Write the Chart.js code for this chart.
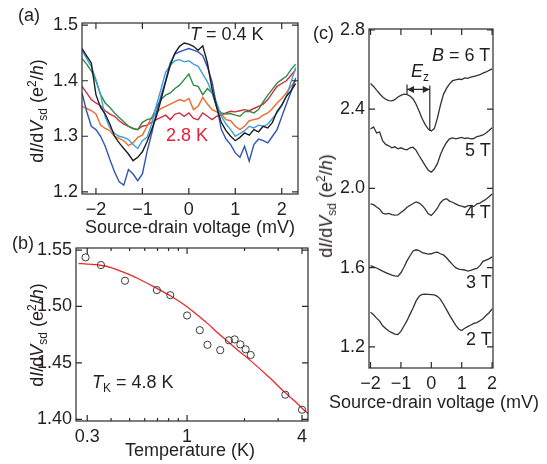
<!DOCTYPE html>
<html>
<head>
<meta charset="utf-8">
<script src="https://cdn.jsdelivr.net/npm/chart.js@4.4.0/dist/chart.umd.min.js"></script>
<style>
  html, body { margin: 0; padding: 0; background: #fff; }
  body { width: 547px; height: 464px; position: relative; overflow: hidden;
         font-family: "Liberation Sans", Arial, sans-serif; color: #231f20; }
  .box { position: absolute; }
  .txt { position: absolute; font-size: 18px; line-height: 18px; white-space: nowrap; }
  .ytitle { position: absolute; font-size: 18px; line-height: 18px; white-space: nowrap;
            transform: translate(-50%, -50%) rotate(-90deg); }
  .xtitle { position: absolute; font-size: 18px; line-height: 18px; white-space: nowrap;
            transform: translateX(-50%); }
  .sub { font-size: 12px; vertical-align: -4px; line-height: 0; }
  .sup { font-size: 12px; vertical-align: 7px; line-height: 0; }
</style>
</head>
<body>

<div class="box" style="left:0;top:0"><canvas id="chartA" width="310" height="240"></canvas></div>
<div class="box" style="left:0;top:230px"><canvas id="chartB" width="320" height="234"></canvas></div>
<div class="box" style="left:300px;top:0"><canvas id="chartC" width="247" height="464"></canvas></div>

<!-- panel (a) text -->
<div class="txt" style="left:18px;top:6px">(a)</div>
<div class="txt" style="left:190px;top:25px"><i>T</i> = 0.4 K</div>
<div class="txt" style="left:166px;top:126px;color:#e8203a">2.8 K</div>
<div class="ytitle" style="left:37px;top:111px">d<i>I</i>/d<i>V</i><span class="sub">sd</span> (e<span class="sup">2</span>/<i>h</i>)</div>
<div class="xtitle" style="left:190px;top:218px">Source-drain voltage (mV)</div>

<!-- panel (b) text -->
<div class="txt" style="left:12px;top:234px">(b)</div>
<div class="ytitle" style="left:37px;top:335px">d<i>I</i>/d<i>V</i><span class="sub">sd</span> (e<span class="sup">2</span>/<i>h</i>)</div>
<div class="txt" style="left:92px;top:373px"><i>T</i><span class="sub">K</span> = 4.8 K</div>
<div class="xtitle" style="left:190px;top:441px">Temperature (K)</div>

<!-- panel (c) text -->
<div class="txt" style="left:313px;top:24px">(c)</div>
<div class="ytitle" style="left:326px;top:206px">d<i>I</i>/d<i>V</i><span class="sub">sd</span> (e<span class="sup">2</span>/<i>h</i>)</div>
<div class="txt" style="left:432px;top:46px"><i>B</i> = 6 T</div>
<div class="txt" style="left:411px;top:62px"><i>E</i><span class="sub">z</span></div>
<div class="txt" style="left:465px;top:141px">5 T</div>
<div class="txt" style="left:465px;top:203px">4 T</div>
<div class="txt" style="left:466px;top:273px">3 T</div>
<div class="txt" style="left:466px;top:330px">2 T</div>
<div class="xtitle" style="left:434px;top:393px">Source-drain voltage (mV)</div>

<script>
// ---- panel (a): dI/dV vs bias at several temperatures ----
const biasA = [-2.3,-2.2,-2.1,-2.0,-1.9,-1.8,-1.7,-1.6,-1.5,-1.4,-1.3,-1.2,-1.1,-1.0,-0.9,-0.8,-0.7,-0.6,-0.5,-0.4,-0.3,-0.2,-0.1,
               0,0.1,0.2,0.3,0.4,0.5,0.6,0.7,0.8,0.9,1.0,1.1,1.2,1.3,1.4,1.5,1.6,1.7,1.8,1.9,2.0,2.1,2.2,2.3];
const blackA = [1.458,1.445,1.432,1.375,1.352,1.340,1.322,1.300,1.288,1.278,1.268,1.256,1.262,1.272,1.290,1.312,1.335,1.365,1.398,1.428,1.450,1.462,1.468,
                1.466,1.462,1.455,1.463,1.432,1.385,1.352,1.325,1.310,1.300,1.292,1.298,1.306,1.302,1.312,1.308,1.318,1.315,1.325,1.345,1.356,1.372,1.382,1.395];
const darkBlueA = [1.378,1.345,1.318,1.312,1.300,1.282,1.258,1.236,1.218,1.212,1.240,1.232,1.220,1.232,1.272,1.305,1.342,1.372,1.400,1.432,1.448,1.452,1.455,
                   1.458,1.455,1.452,1.445,1.425,1.398,1.354,1.312,1.295,1.285,1.270,1.262,1.282,1.255,1.285,1.295,1.292,1.288,1.300,1.312,1.335,1.358,1.380,1.405];
const lightBlueA = [1.455,1.440,1.426,1.402,1.375,1.335,1.315,1.305,1.300,1.298,1.294,1.285,1.278,1.292,1.298,1.322,1.355,1.385,1.415,1.428,1.436,1.438,1.434,
                    1.436,1.430,1.426,1.412,1.398,1.378,1.360,1.336,1.322,1.312,1.300,1.305,1.310,1.318,1.315,1.320,1.318,1.322,1.332,1.342,1.355,1.372,1.398,1.424];
const greenA = [1.440,1.430,1.418,1.400,1.375,1.360,1.352,1.342,1.334,1.326,1.318,1.314,1.312,1.325,1.330,1.332,1.352,1.366,1.374,1.378,1.386,1.392,1.402,
                1.412,1.392,1.390,1.375,1.386,1.378,1.352,1.342,1.340,1.341,1.338,1.336,1.344,1.345,1.342,1.348,1.362,1.374,1.385,1.396,1.402,1.408,1.420,1.430];
const orangeA = [1.354,1.350,1.346,1.340,1.320,1.314,1.310,1.300,1.296,1.292,1.283,1.288,1.298,1.302,1.318,1.334,1.342,1.350,1.354,1.358,1.362,1.366,1.363,
                 1.368,1.348,1.354,1.370,1.358,1.348,1.344,1.340,1.330,1.328,1.318,1.312,1.318,1.328,1.330,1.332,1.338,1.342,1.350,1.360,1.368,1.378,1.390,1.400];
const redA = [1.390,1.378,1.366,1.360,1.355,1.346,1.340,1.336,1.328,1.322,1.318,1.314,1.312,1.318,1.320,1.325,1.330,1.334,1.338,1.330,1.340,1.342,1.336,
              1.342,1.332,1.330,1.342,1.336,1.330,1.336,1.338,1.342,1.345,1.344,1.346,1.348,1.346,1.350,1.354,1.358,1.366,1.378,1.390,1.395,1.400,1.410,1.420];
const xTicksA = [-2, -1, 0, 1, 2];
const yTicksA = [1.2, 1.3, 1.4, 1.5];

// ---- panel (b): zero-bias conductance vs temperature ----
const tempB = [0.294,0.354,0.473,0.695,0.817,1.0,1.166,1.279,1.492,1.657,1.775,1.901,2.027,2.154,3.27,4.0];
const condB = [1.5435,1.5367,1.5228,1.5145,1.5100,1.4920,1.4790,1.4660,1.4613,1.4700,1.4708,1.4664,1.4620,1.4570,1.4218,1.4085];
const fitTempB = [0.27,0.30,0.35,0.40,0.47,0.55,0.695,0.817,1.0,1.15,1.28,1.45,1.66,1.9,2.15,2.7,3.27,3.7,4.08,4.3];
const fitCondB = [1.5380,1.5376,1.5365,1.5345,1.5300,1.5250,1.5160,1.5095,1.4998,1.4915,1.4850,1.4765,1.4680,1.4595,1.4520,1.4370,1.4235,1.4155,1.4085,1.4050];
const xTicksB = [0.3, 0.4, 0.5, 0.6, 0.7, 0.8, 0.9, 1, 2, 3, 4];
const xLabelsB = [0.3, 1, 4];
const yTicksB = [1.40, 1.45, 1.50, 1.55];

// ---- panel (c): dI/dV vs bias in magnetic field (curves offset) ----
const biasC = [-2.0,-1.9,-1.8,-1.7,-1.6,-1.5,-1.4,-1.3,-1.2,-1.1,-1.0,-0.9,-0.8,-0.7,-0.6,-0.5,-0.4,-0.3,-0.2,-0.1,
               0,0.1,0.2,0.3,0.4,0.5,0.6,0.7,0.8,0.9,1.0,1.1,1.2,1.3,1.4,1.5,1.6,1.7,1.8,1.9,2.0];
const field6T = [2.530,2.515,2.496,2.478,2.462,2.450,2.443,2.442,2.448,2.462,2.470,2.476,2.474,2.466,2.452,2.425,2.390,2.352,2.322,2.300,
                 2.290,2.302,2.355,2.420,2.475,2.505,2.528,2.544,2.548,2.552,2.550,2.558,2.556,2.562,2.566,2.570,2.574,2.582,2.588,2.596,2.604];
const field5T = [2.300,2.310,2.280,2.285,2.240,2.222,2.215,2.205,2.210,2.200,2.205,2.198,2.195,2.205,2.208,2.192,2.165,2.140,2.115,2.092,
                 2.082,2.098,2.125,2.170,2.205,2.232,2.250,2.255,2.250,2.254,2.258,2.252,2.255,2.250,2.252,2.262,2.265,2.270,2.280,2.292,2.306];
const field4T = [1.922,1.918,1.906,1.895,1.875,1.870,1.874,1.868,1.865,1.866,1.878,1.890,1.905,1.914,1.924,1.932,1.926,1.914,1.895,1.872,
                 1.864,1.880,1.900,1.928,1.942,1.948,1.936,1.930,1.922,1.914,1.910,1.905,1.912,1.914,1.908,1.922,1.926,1.936,1.945,1.958,1.972];
const field3T = [1.610,1.604,1.598,1.590,1.582,1.575,1.568,1.562,1.558,1.556,1.574,1.602,1.634,1.660,1.684,1.690,1.686,1.676,1.672,1.668,
                 1.670,1.676,1.678,1.670,1.664,1.650,1.632,1.615,1.600,1.592,1.590,1.588,1.582,1.586,1.592,1.596,1.610,1.632,1.638,1.644,1.654];
const field2T = [1.375,1.362,1.345,1.330,1.306,1.292,1.280,1.272,1.264,1.262,1.278,1.305,1.332,1.365,1.396,1.432,1.455,1.465,1.466,1.465,
                 1.464,1.462,1.455,1.440,1.415,1.388,1.360,1.335,1.310,1.290,1.282,1.294,1.302,1.310,1.318,1.322,1.332,1.342,1.358,1.372,1.392];
const xTicksC = [-2, -1, 0, 1, 2];
const yTicksC = [1.2, 1.6, 2.0, 2.4, 2.8];
// Zeeman splitting marker (in data units)
const ezArrowX = [-0.8, -0.05];
const ezArrowY = 2.50;
const ezLineY = [2.29, 2.52];

Chart.defaults.font.family = '"Liberation Sans", Arial, sans-serif';
Chart.defaults.font.size = 18;
Chart.defaults.color = '#231f20';

const INK = '#2a2a2a';

function pts(xs, ys) {
  return xs.map((x, i) => ({ x: x, y: ys[i] }));
}

function minusFmt(v) {
  return v < 0 ? '\u2212' + Math.abs(v) : String(v);
}

// Closed box with inward ticks on all four sides
const frame = {
  id: 'frame',
  afterDatasetsDraw(chart) {
    const { ctx, chartArea: a } = chart;
    const sx = chart.scales.x, sy = chart.scales.y;
    ctx.save();
    ctx.strokeStyle = INK;
    ctx.lineWidth = 1.2;
    ctx.strokeRect(a.left, a.top, a.right - a.left, a.bottom - a.top);
    ctx.beginPath();
    sx.ticks.forEach(t => {
      const p = sx.getPixelForValue(t.value);
      const len = t.minor ? 3 : 6;
      ctx.moveTo(p, a.bottom); ctx.lineTo(p, a.bottom - len);
      ctx.moveTo(p, a.top); ctx.lineTo(p, a.top + len);
    });
    sy.ticks.forEach(t => {
      const p = sy.getPixelForValue(t.value);
      ctx.moveTo(a.left, p); ctx.lineTo(a.left + 6, p);
      ctx.moveTo(a.right, p); ctx.lineTo(a.right - 6, p);
    });
    ctx.stroke();
    ctx.restore();
  }
};

// E_z arrow and vertical marker in panel (c)
const zeeman = {
  id: 'zeeman',
  afterDatasetsDraw(chart) {
    const { ctx } = chart;
    const sx = chart.scales.x, sy = chart.scales.y;
    const xl = sx.getPixelForValue(ezArrowX[0]);
    const xr = sx.getPixelForValue(ezArrowX[1]);
    const ya = sy.getPixelForValue(ezArrowY);
    ctx.save();
    ctx.strokeStyle = INK;
    ctx.fillStyle = INK;
    ctx.lineWidth = 1.2;
    ctx.beginPath();
    ctx.moveTo(xr, sy.getPixelForValue(ezLineY[0]));
    ctx.lineTo(xr, sy.getPixelForValue(ezLineY[1]));
    ctx.moveTo(xl, ya); ctx.lineTo(xr, ya);
    ctx.moveTo(xl, ya - 5); ctx.lineTo(xl, ya + 5);
    ctx.stroke();
    ctx.beginPath();
    ctx.moveTo(xl, ya); ctx.lineTo(xl + 7, ya - 3.5); ctx.lineTo(xl + 7, ya + 3.5); ctx.closePath();
    ctx.moveTo(xr, ya); ctx.lineTo(xr - 7, ya - 3.5); ctx.lineTo(xr - 7, ya + 3.5); ctx.closePath();
    ctx.fill();
    ctx.restore();
  }
};

function setTicks(list, minorTest) {
  return function(scale) {
    scale.ticks = list.map(v => ({ value: v, minor: minorTest ? minorTest(v) : false }));
  };
}

function lineSet(ys, xs, color, width) {
  return {
    data: pts(xs, ys),
    borderColor: color,
    borderWidth: width,
    pointRadius: 0,
    tension: 0,
    fill: false
  };
}

const baseOpts = {
  responsive: false,
  animation: false,
  plugins: { legend: { display: false }, tooltip: { enabled: false } },
  events: []
};

// ---- chart (a) ----
new Chart(document.getElementById('chartA'), {
  type: 'line',
  data: {
    datasets: [
      lineSet(blackA, biasA, '#1e1e1e', 1.4),
      lineSet(darkBlueA, biasA, '#3055b5', 1.4),
      lineSet(lightBlueA, biasA, '#3c9fdd', 1.4),
      lineSet(greenA, biasA, '#2f8a47', 1.4),
      lineSet(orangeA, biasA, '#f26a2b', 1.4),
      lineSet(redA, biasA, '#d22c3d', 1.4)
    ]
  },
  options: Object.assign({}, baseOpts, {
    layout: { padding: { left: 0, top: 23, right: 12, bottom: 0 } },
    scales: {
      x: {
        type: 'linear', min: -2.3, max: 2.35,
        grid: { display: false, drawTicks: false }, border: { display: false },
        afterBuildTicks: setTicks(xTicksA),
        afterFit: s => { s.height = 46; },
        ticks: { padding: 5, autoSkip: false, maxRotation: 0, callback: minusFmt }
      },
      y: {
        type: 'linear', min: 1.196, max: 1.504,
        grid: { display: false, drawTicks: false }, border: { display: false },
        afterBuildTicks: setTicks(yTicksA),
        afterFit: s => { s.width = 82; },
        ticks: { padding: 4, autoSkip: false, callback: v => v.toFixed(1) }
      }
    }
  }),
  plugins: [frame]
});

// ---- chart (b) ----
new Chart(document.getElementById('chartB'), {
  type: 'scatter',
  data: {
    datasets: [
      {
        data: pts(tempB, condB),
        pointRadius: 3.6,
        pointBorderWidth: 1,
        pointBorderColor: '#3a3a3a',
        pointBackgroundColor: 'rgba(255,255,255,0)',
        showLine: false
      },
      {
        data: pts(fitTempB, fitCondB),
        showLine: true,
        borderColor: '#e8282c',
        borderWidth: 1.3,
        pointRadius: 0,
        cubicInterpolationMode: 'monotone',
        fill: false
      }
    ]
  },
  options: Object.assign({}, baseOpts, {
    layout: { padding: { left: 0, top: 18, right: 12, bottom: 0 } },
    scales: {
      x: {
        type: 'logarithmic', min: 0.262, max: 4.3,
        grid: { display: false, drawTicks: false }, border: { display: false },
        afterBuildTicks: setTicks(xTicksB, v => !xLabelsB.includes(v)),
        afterFit: s => { s.height = 43; },
        ticks: { padding: 5, autoSkip: false, maxRotation: 0,
                 callback: v => xLabelsB.includes(v) ? String(v) : '' }
      },
      y: {
        type: 'linear', min: 1.3985, max: 1.5518,
        grid: { display: false, drawTicks: false }, border: { display: false },
        afterBuildTicks: setTicks(yTicksB),
        afterFit: s => { s.width = 76; },
        ticks: { padding: 4, autoSkip: false, callback: v => v.toFixed(2) }
      }
    }
  }),
  plugins: [frame]
});

// ---- chart (c) ----
const gray = '#333333';
new Chart(document.getElementById('chartC'), {
  type: 'line',
  data: {
    datasets: [
      lineSet(field6T, biasC, gray, 1.3),
      lineSet(field5T, biasC, gray, 1.3),
      lineSet(field4T, biasC, gray, 1.3),
      lineSet(field3T, biasC, gray, 1.3),
      lineSet(field2T, biasC, gray, 1.3)
    ]
  },
  options: Object.assign({}, baseOpts, {
    layout: { padding: { left: 0, top: 29, right: 54, bottom: 0 } },
    scales: {
      x: {
        type: 'linear', min: -2.05, max: 2.03,
        grid: { display: false, drawTicks: false }, border: { display: false },
        afterBuildTicks: setTicks(xTicksC),
        afterFit: s => { s.height = 96; },
        ticks: { padding: 5, autoSkip: false, maxRotation: 0, callback: minusFmt }
      },
      y: {
        type: 'linear', min: 1.093, max: 2.805,
        grid: { display: false, drawTicks: false }, border: { display: false },
        afterBuildTicks: setTicks(yTicksC),
        afterFit: s => { s.width = 69; },
        ticks: { padding: 4, autoSkip: false, callback: v => v.toFixed(1) }
      }
    }
  }),
  plugins: [frame, zeeman]
});
</script>
</body>
</html>
